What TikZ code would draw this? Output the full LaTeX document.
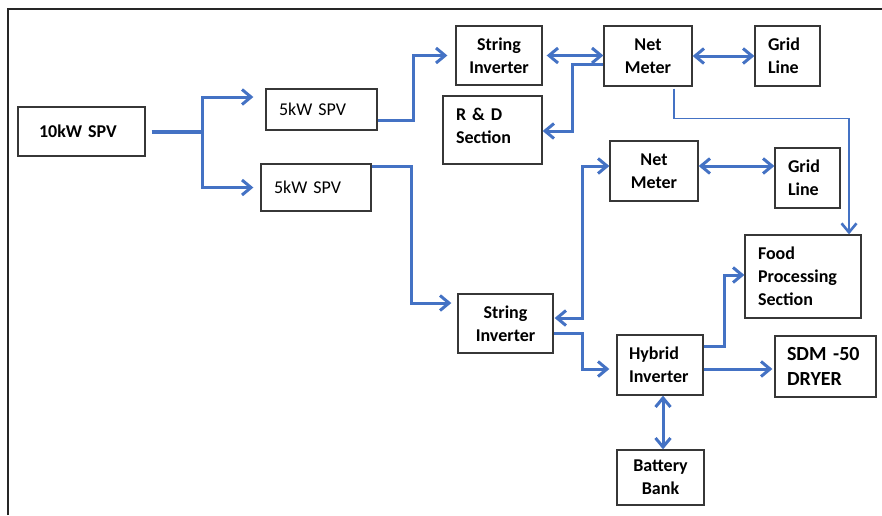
\documentclass[tikz,border=0pt]{standalone}
\usepackage{fontspec}
\setmainfont{Carlito}
\usetikzlibrary{arrows.meta,calc}
\definecolor{lineblue}{RGB}{68,114,196}
\definecolor{boxgray}{RGB}{55,55,55}
\begin{document}
\begin{tikzpicture}[x=1pt,y=-1pt,
  box/.style={draw=boxgray,line width=1.3pt,inner sep=0pt,
    font=\bfseries\fontsize{18}{23}\selectfont,align=center},
  lbox/.style={box,align=left,inner xsep=12.5pt},
  conn/.style={draw=lineblue,line width=3pt,line join=miter,
    >={Straight Barb[length=9pt,width=15pt]}}]
\useasboundingbox (0,0) rectangle (882,515);
% frame
\draw[line width=2.5pt,black!85] (8,515) -- (8,9) -- (882,9);

% nodes
\node[lbox,inner xsep=21pt,text width=85pt,minimum height=49pt] (spv10) at (81.5,131.5) {10kW SPV};
\node[lbox,font=\fontsize{18}{23}\selectfont,inner xsep=13pt,text width=85pt,minimum height=41pt] (spvA) at (321.5,109.5) {5kW SPV};
\node[lbox,font=\fontsize{18}{23}\selectfont,inner xsep=13pt,text width=84pt,minimum height=47pt] (spvB) at (316,187.5) {5kW SPV};
\node[box,minimum width=86pt,minimum height=59pt] (siA) at (499,55.5) {String\\Inverter};
\node[box,minimum width=88pt,minimum height=60pt] (nmA) at (648,56) {Net\\Meter};
\node[lbox,inner xsep=13pt,text width=39pt,minimum height=60pt] (glA) at (787.5,56) {Grid\\Line};
\node[lbox,inner xsep=13pt,text width=73pt,minimum height=68pt] (rd) at (492.5,130) {R \& D\\Section\vphantom{g}\rule[-9pt]{0pt}{0pt}};
\node[box,minimum width=88pt,minimum height=60pt] (nmB) at (654,171) {Net\\Meter};
\node[lbox,inner xsep=13pt,text width=39pt,minimum height=60pt] (glB) at (807.5,178) {Grid\\Line};
\node[lbox,inner xsep=13pt,text width=90pt,minimum height=83pt] (food) at (803,276.5) {Food\\Processing\\Section};
\node[box,minimum width=95pt,minimum height=59pt] (siB) at (505.5,323.5) {String\\Inverter};
\node[lbox,inner xsep=12pt,text width=62pt,minimum height=60pt] (hyb) at (660,365) {Hybrid\\Inverter};
\node[lbox,font=\bfseries\fontsize{20}{25}\selectfont,inner xsep=12pt,text width=77pt,minimum height=61pt] (sdm) at (825.5,366.5) {SDM -50\\DRYER};
\node[box,minimum width=87pt,minimum height=55pt] (bat) at (660.5,477.5) {Battery\\Bank};

% connectors
\coordinate (j) at (202,132);
\draw[conn,line width=4.5pt] ($(spv10.east)+(6,0.5)$) -- (j);
\draw[conn,->] (j) |- ($(spvA.west)+(-12,-12.5)$);
\draw[conn,->] (j) |- ($(spvB.west)+(-7,0)$);

\draw[conn,->] ($(spvA.south east)+(0,-10)$) -- ++(36,0) |- ($(siA.west)+(-8,0)$);
\draw[conn,->] ($(spvB.north east)+(0,3)$) -- ++(40,0) |- ($(siB.west)+(-6,-20.5)$);

\draw[conn,<->] ($(siA.east)+(4,0)$) -- ($(nmA.west)+(0,-0.5)$);
\draw[conn,<->] (nmA.east) -- (glA.west);
\draw[conn,->] ($(nmA.west)+(0,8)$) -- ++(-31,0) |- ($(rd.east)+(0,1)$);
\draw[conn,line width=1.4pt,->,>={Straight Barb[length=9pt,width=15pt,line width=2.6pt]}]
  ($(nmA.south)+(26,2)$) -- ++(0,30) -| ($(food.north)+(46,0)$);

\draw[conn,<->] ($(siB.east)+(1,-5.5)$) -- ++(28,0) |- ($(nmB.west)+(0,-5)$);
\draw[conn,<->] ($(nmB.east)+(0,-5)$) -- ($(glB.west)+(0,-12)$);

\draw[conn,->] ($(siB.east)+(0,9.5)$) -- ++(29,0) |- ($(hyb.west)+(-7,4)$);
\draw[conn,->] ($(hyb.east)+(0,-19)$) -- ++(21,0) |- ($(food.west)+(0,-1.5)$);
\draw[conn,->] ($(hyb.east)+(0,4)$) -- ($(sdm.west)+(-2,2.5)$);
\draw[conn,<->] ($(hyb.south)+(3,0)$) -- ($(bat.north)+(2.5,0)$);
\end{tikzpicture}
\end{document}
